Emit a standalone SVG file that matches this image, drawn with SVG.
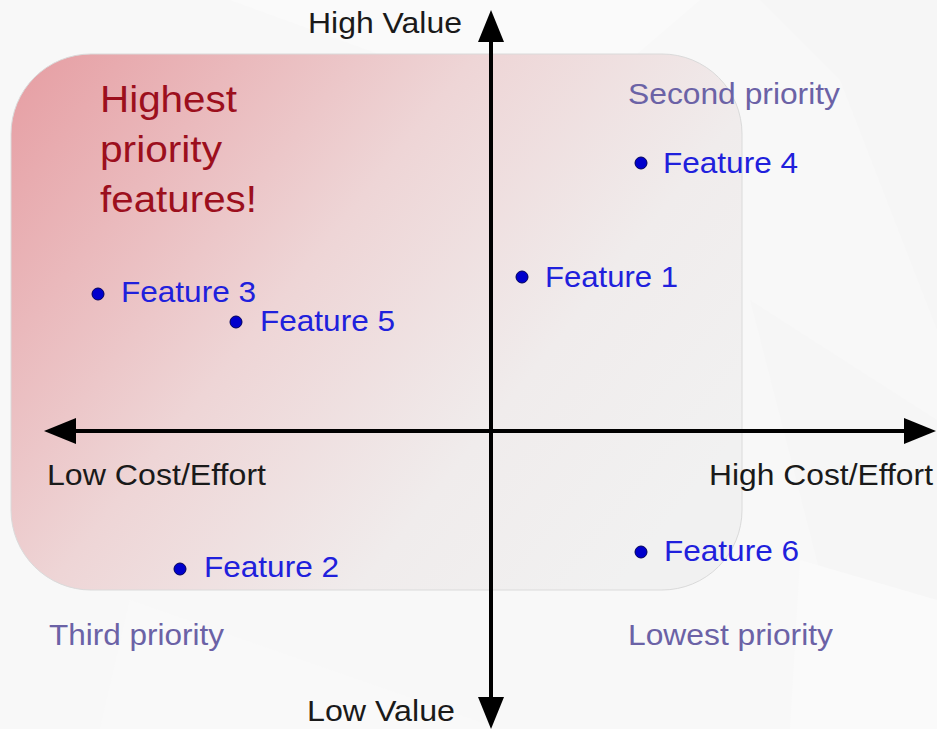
<svg xmlns="http://www.w3.org/2000/svg" width="937" height="729" viewBox="0 0 937 729">
  <style>
    text { font-family: "Liberation Sans", Arial, sans-serif; }
    .axis-label { font-size: 29px; fill: #1a1a1a; }
    .feat { font-size: 29px; fill: #2020dc; }
    .prio { font-size: 29px; fill: #6b62a6; }
    .top { font-size: 37.5px; fill: #9c0f1d; }
    .dot { fill: #0000cc; stroke: #00005a; stroke-width: 1; }
    .axis { stroke: #000; stroke-width: 4; fill: none; }
  </style>
  <defs>
    <linearGradient id="quad" gradientUnits="userSpaceOnUse" x1="11" y1="54" x2="640" y2="560">
      <stop offset="0" stop-color="#e69da2"/>
      <stop offset="0.45" stop-color="#eed5d6"/>
      <stop offset="0.75" stop-color="#f0ecec"/>
      <stop offset="1" stop-color="#f1f1f1"/>
    </linearGradient>
    <marker id="arrow" markerUnits="userSpaceOnUse" markerWidth="32" markerHeight="26" viewBox="0 0 32 26" refX="0" refY="13" orient="auto-start-reverse" overflow="visible">
      <path d="M0,0 L32,13 L0,26 z" fill="#000"/>
    </marker>
  </defs>

  <!-- background -->
  <rect x="0" y="0" width="937" height="729" fill="#f8f8f8"/>
  <polygon points="230,0 700,0 560,120" fill="#fafafa"/>
  <polygon points="760,0 937,0 937,330 840,80" fill="#f6f6f6"/>
  <polygon points="750,300 937,420 937,729 860,729" fill="#f6f6f6"/>
  <polygon points="130,600 500,729 100,729" fill="#f9f9f9"/>
  <polygon points="800,560 937,600 937,729 790,729" fill="#fafafa"/>

  <!-- quadrant area -->
  <g id="highlight-area">
    <rect x="11" y="54" width="731" height="536" rx="80" ry="80" fill="url(#quad)" stroke="#dadada" stroke-width="1"/>
  </g>

  <!-- connectors (axes) -->
  <g id="connectors">
    <line class="axis" x1="76" y1="431" x2="904" y2="431" marker-start="url(#arrow)" marker-end="url(#arrow)"/>
    <line class="axis" x1="491" y1="42" x2="491" y2="697" marker-start="url(#arrow)" marker-end="url(#arrow)"/>
  </g>

  <!-- axis labels -->
  <g id="label-high-value"><text class="axis-label" x="308" y="33" textLength="154" lengthAdjust="spacingAndGlyphs">High Value</text></g>
  <g id="label-low-value"><text class="axis-label" x="307" y="721" textLength="148" lengthAdjust="spacingAndGlyphs">Low Value</text></g>
  <g id="label-low-cost"><text class="axis-label" x="47" y="485" textLength="219" lengthAdjust="spacingAndGlyphs">Low Cost/Effort</text></g>
  <g id="label-high-cost"><text class="axis-label" x="709" y="485" textLength="224" lengthAdjust="spacingAndGlyphs">High Cost/Effort</text></g>

  <!-- quadrant titles -->
  <g id="highest-priority">
    <text class="top" x="100" y="112" textLength="137" lengthAdjust="spacingAndGlyphs">Highest</text>
    <text class="top" x="100" y="162" textLength="122" lengthAdjust="spacingAndGlyphs">priority</text>
    <text class="top" x="100" y="212" textLength="157" lengthAdjust="spacingAndGlyphs">features!</text>
  </g>
  <g id="second-priority"><text class="prio" x="628" y="104" textLength="212" lengthAdjust="spacingAndGlyphs">Second priority</text></g>
  <g id="third-priority"><text class="prio" x="49" y="645" textLength="175" lengthAdjust="spacingAndGlyphs">Third priority</text></g>
  <g id="lowest-priority"><text class="prio" x="628" y="645" textLength="205" lengthAdjust="spacingAndGlyphs">Lowest priority</text></g>

  <!-- features -->
  <g id="feature-1">
    <circle class="dot" cx="522" cy="277" r="6"/>
    <text class="feat" x="545" y="287" textLength="133" lengthAdjust="spacingAndGlyphs">Feature 1</text>
  </g>
  <g id="feature-2">
    <circle class="dot" cx="180" cy="569" r="6"/>
    <text class="feat" x="204" y="577" textLength="135" lengthAdjust="spacingAndGlyphs">Feature 2</text>
  </g>
  <g id="feature-3">
    <circle class="dot" cx="98" cy="294" r="6"/>
    <text class="feat" x="121" y="302" textLength="135" lengthAdjust="spacingAndGlyphs">Feature 3</text>
  </g>
  <g id="feature-4">
    <circle class="dot" cx="641" cy="163" r="6"/>
    <text class="feat" x="663" y="173" textLength="135" lengthAdjust="spacingAndGlyphs">Feature 4</text>
  </g>
  <g id="feature-5">
    <circle class="dot" cx="236" cy="322" r="6"/>
    <text class="feat" x="260" y="331" textLength="135" lengthAdjust="spacingAndGlyphs">Feature 5</text>
  </g>
  <g id="feature-6">
    <circle class="dot" cx="641" cy="552" r="6"/>
    <text class="feat" x="664" y="561" textLength="135" lengthAdjust="spacingAndGlyphs">Feature 6</text>
  </g>
</svg>
